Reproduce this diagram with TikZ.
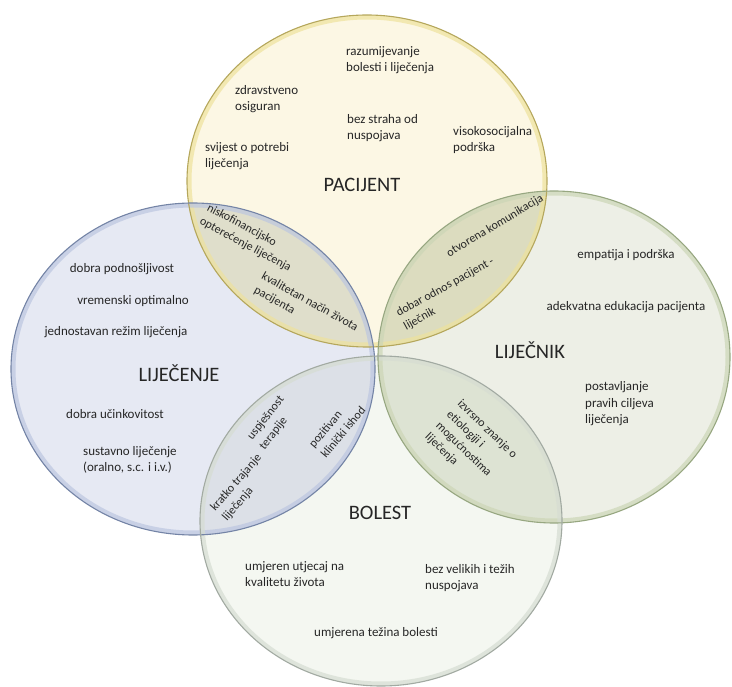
\documentclass[tikz,border=0pt]{standalone}
\usepackage{fontspec}
\setmainfont{Carlito}
\definecolor{pacfill}{HTML}{FCF7E4}
\definecolor{pacline}{HTML}{B5A75C}
\definecolor{pacglow}{HTML}{EEE29C}
\definecolor{lijfill}{HTML}{E6E9F3}
\definecolor{lijline}{HTML}{7484A6}
\definecolor{lijglow}{HTML}{BCC6E0}
\definecolor{ljkfill}{HTML}{EDEFE6}
\definecolor{ljkline}{HTML}{97A781}
\definecolor{ljkglow}{HTML}{CCD6B6}
\definecolor{bolfill}{HTML}{F4F7F1}
\definecolor{bolline}{HTML}{A2AAA2}
\definecolor{bolglow}{HTML}{D6DDD2}
\definecolor{lensTL}{HTML}{DFDECB}
\definecolor{lensTR}{HTML}{DCDCBF}
\definecolor{lensBL}{HTML}{DCE0E7}
\definecolor{lensBR}{HTML}{DDE3D3}
\begin{document}
\begin{tikzpicture}[x=1pt, y=-1pt, line join=round, line cap=round,
  txt/.style={font=\fontsize{13}{16.5}\selectfont, align=left, inner sep=0pt, text=black!85},
  lenstxt/.style={font=\fontsize{12}{15.5}\selectfont, align=left, inner sep=0pt, text=black!85},
  title/.style={font=\fontsize{20.5}{24}\selectfont, inner sep=0pt, text=black!85}]
\useasboundingbox (0,0) rectangle (732,687);
\def\pac{(367,181) ellipse [x radius=180, y radius=166]}
\def\lij{(193,369) ellipse [x radius=182, y radius=166]}
\def\ljk{(554,357) ellipse [x radius=176, y radius=166]}
\def\bol{(381,521) ellipse [x radius=181, y radius=165]}
% circles
\fill[pacfill] \pac;
\fill[lijfill] \lij;
\fill[ljkfill] \ljk;
\fill[bolfill] \bol;
% overlaps
\begin{scope}
\clip \pac;
\fill[lensTL] \lij;
\fill[lensTR] \ljk;
\end{scope}
\begin{scope}
\clip \bol;
\fill[lensBL] \lij;
\fill[lensBR] \ljk;
\end{scope}
% inner glow
\begin{scope}\clip \pac; \draw[pacglow, line width=9, opacity=0.7] \pac; \end{scope}
\begin{scope}\clip \lij; \draw[lijglow, line width=9, opacity=0.7] \lij; \end{scope}
\begin{scope}\clip \ljk; \draw[ljkglow, line width=9, opacity=0.7] \ljk; \end{scope}
\begin{scope}\clip \bol; \draw[bolglow, line width=9, opacity=0.7] \bol; \end{scope}
% borders
\draw[pacline, line width=1.1pt] \pac;
\draw[lijline, line width=1.1pt] \lij;
\draw[ljkline, line width=1.1pt] \ljk;
\draw[bolline, line width=1.1pt] \bol;
% PACIJENT
\node[title] (pacijent) at (362,185) {PACIJENT};
\node[txt, anchor=west] (razum) at (346,60) {razumijevanje\\bolesti i liječenja};
\node[txt, anchor=west] (osig) at (235,99) {zdravstveno\\osiguran};
\node[txt, anchor=west] (strah) at (347,128) {bez straha od\\nuspojava};
\node[txt, anchor=west] (podrska) at (453,140) {visokosocijalna\\podrška};
\node[txt, anchor=west] (svijest) at (205,156) {svijest o potrebi\\liječenja};
% LIJEČENJE
\node[title] (lijecenje) at (179,373) {LIJEČENJE};
\node[txt] (podnos) at (122,269) {dobra podnošljivost};
\node[txt] (vrem) at (133,301) {vremenski optimalno};
\node[txt] (rezim) at (116,332) {jednostavan režim liječenja};
\node[txt] (ucink) at (115,414) {dobra učinkovitost};
\node[txt, anchor=west] (sustav) at (83,460) {sustavno liječenje\\(oralno, s.c. i i.v.)};
% LIJEČNIK
\node[title] (lijecnik) at (530,350) {LIJEČNIK};
\node[txt] (empat) at (626,255) {empatija i podrška};
\node[txt] (edukac) at (626,307) {adekvatna edukacija pacijenta};
\node[txt, anchor=west] (ciljevi) at (585,404) {postavljanje\\pravih ciljeva\\liječenja};
% BOLEST
\node[title] (bolest) at (380,513) {BOLEST};
\node[txt, anchor=west] (utjecaj) at (245,574) {umjeren utjecaj na\\kvalitetu života};
\node[txt, anchor=west] (nusp) at (425,578) {bez velikih i težih\\nuspojava};
\node[txt] (tezina) at (376,633) {umjerena težina bolesti};
% overlaps text
\node[lenstxt, rotate=-28] (nisko) at (249,238) {niskofinancijsko\\opterećenje liječenja};
\node[lenstxt, rotate=-29] (kvalit) at (306,309) {kvalitetan način života\\pacijenta};
\node[lenstxt, rotate=31] (otvor) at (495,226) {otvorena komunikacija};
\node[lenstxt, rotate=29] (odnos) at (449,294) {dobar odnos pacijent -\\liječnik};
\node[lenstxt, rotate=52] (uspjeh) at (272,423) {uspješnost\\terapije};
\node[lenstxt, rotate=50] (ishod) at (337,427) {pozitivan\\klinički ishod};
\node[lenstxt, rotate=49] (kratko) at (242,488) {kratko trajanje\\liječenja};
\node[lenstxt, rotate=-44] (znanje) at (471,446) {izvrsno znanje o\\etiologiji i\\mogućnostima\\liječenja};
\end{tikzpicture}
\end{document}
